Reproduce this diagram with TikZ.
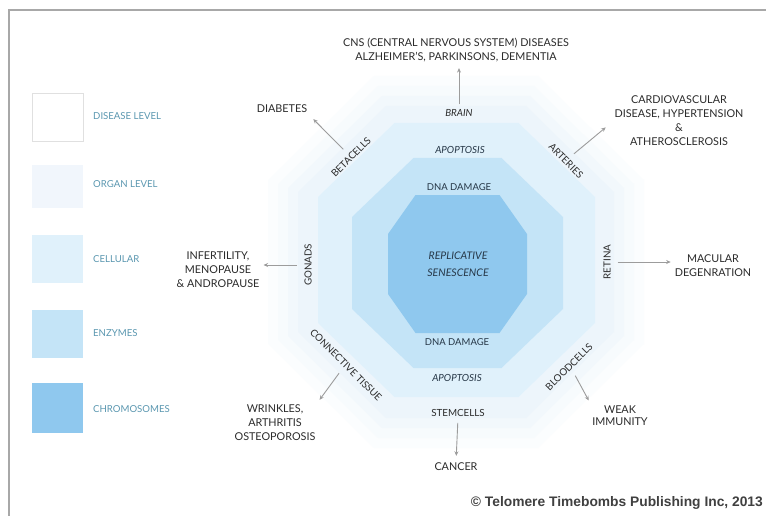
\documentclass[tikz,border=0pt]{standalone}
\usepackage{fontspec}
\setmainfont{Lato}
\newfontfamily\notefont{Liberation Sans}
\usetikzlibrary{arrows.meta}

\definecolor{framegray}{HTML}{A8A8A8}
\definecolor{txtdark}{HTML}{2B2B2B}
\definecolor{txtnavy}{HTML}{263747}
\definecolor{legendtxt}{HTML}{5A97B0}
\definecolor{arrowgray}{HTML}{9C9C9C}
\definecolor{organA}{HTML}{FBFDFE}
\definecolor{organB}{HTML}{F7FBFD}
\definecolor{organC}{HTML}{F2F8FC}
\definecolor{organD}{HTML}{EDF5FB}
\definecolor{organkey}{HTML}{F1F6FC}
\definecolor{cellfill}{HTML}{E0F1FB}
\definecolor{enzfill}{HTML}{C4E4F7}
\definecolor{chromfill}{HTML}{8FC8EE}

% filled octagon: style, centre x, centre y, half width, half height,
% half length of top edge, half length of side edge
\newcommand\octfill[7]{%
  \fill[#1] ({#2-#6},{#3-#5}) -- ({#2+#6},{#3-#5}) -- ({#2+#4},{#3-#7})
    -- ({#2+#4},{#3+#7}) -- ({#2+#6},{#3+#5}) -- ({#2-#6},{#3+#5})
    -- ({#2-#4},{#3+#7}) -- ({#2-#4},{#3-#7}) -- cycle;}

\begin{document}
\begin{tikzpicture}[x=1pt,y=-1pt,
  lbl/.style={font=\fontsize{10.8}{14}\selectfont, text=txtdark, inner sep=1pt, align=center},
  orglbl/.style={font=\fontsize{9.8}{11}\selectfont, text=txtdark, inner sep=1pt, align=center},
  inlbl/.style={font=\fontsize{9.5}{11}\selectfont, text=txtnavy, inner sep=1pt, align=center},
  legtxt/.style={font=\fontsize{9.6}{11}\selectfont, text=legendtxt, anchor=west, inner sep=0pt},
  arr/.style={draw=arrowgray, line width=0.9pt, -{Stealth[length=4.5pt,width=4pt]}}]

% canvas and frame
\useasboundingbox (0,0) rectangle (766,516);
\fill[white] (0,0) rectangle (766,516);
\draw[framegray, line width=1.3pt] (9,516) -- (9,10) -- (766,10);

% legend
\fill[white] (32,93) rectangle (83,141);
\draw[black!12, line width=0.8pt] (32,93) rectangle (83,141);
\fill[organkey] (32,165) rectangle (83,208);
\fill[cellfill] (32,235) rectangle (83,283);
\fill[enzfill] (32,310) rectangle (83,358);
\fill[chromfill] (32,383) rectangle (83,433);
\node[legtxt] (lgdis) at (93,116) {DISEASE LEVEL};
\node[legtxt] (lgorg) at (93,184) {ORGAN LEVEL};
\node[legtxt] (lgcel) at (93,259) {CELLULAR};
\node[legtxt] (lgenz) at (93,333) {ENZYMES};
\node[legtxt] (lgchr) at (93,409) {CHROMOSOMES};

% nested octagons: organ level (soft edge), cellular, enzymes, chromosomes
\octfill{organA}{456}{262}{188}{186}{82}{82}
\octfill{organB}{456}{262}{178}{176}{78}{78}
\octfill{organC}{456}{262}{168}{166}{74}{74}
\octfill{organD}{456}{262}{158}{156}{70}{70}
\octfill{cellfill}{456.5}{260}{138.5}{137}{62}{63}
\octfill{enzfill}{457.5}{263}{105.5}{105}{44}{46}
\octfill{chromfill}{457.5}{264}{69.5}{69}{42}{30}

% central labels
\node[inlbl, font=\fontsize{10.5}{17}\selectfont\itshape] (core) at (458,264) {REPLICATIVE\\SENESCENCE};
\node[inlbl] (dnatop) at (459,187) {DNA DAMAGE};
\node[inlbl] (dnabot) at (457,342) {DNA DAMAGE};
\node[inlbl, font=\fontsize{9.8}{11}\selectfont\itshape] (apotop) at (460,150) {APOPTOSIS};
\node[inlbl, font=\fontsize{9.8}{11}\selectfont\itshape] (apobot) at (457,378) {APOPTOSIS};

% organ labels
\node[orglbl, font=\fontsize{9.8}{11}\selectfont\itshape] (brain) at (459,113) {BRAIN};
\node[orglbl, rotate=45] (beta) at (351,157) {BETACELLS};
\node[orglbl, rotate=-45] (arteries) at (566,161) {ARTERIES};
\node[orglbl, rotate=90] (retina) at (607,262) {RETINA};
\node[orglbl, rotate=90] (gonads) at (308,265) {GONADS};
\node[orglbl, rotate=-45] (conn) at (346,365) {CONNECTIVE TISSUE};
\node[orglbl, rotate=45] (blood) at (569,367) {BLOODCELLS};
\node[orglbl] (stem) at (458,413) {STEMCELLS};

% disease labels
\node[lbl] (cns) at (456,50) {CNS (CENTRAL NERVOUS SYSTEM) DISEASES\\ALZHEIMER'S, PARKINSONS, DEMENTIA};
\node[lbl] (diab) at (282,109) {DIABETES};
\node[lbl] (cardio) at (679,121) {CARDIOVASCULAR\\DISEASE, HYPERTENSION\\\&\\ATHEROSCLEROSIS};
\node[lbl] (macular) at (713,266) {MACULAR\\DEGENRATION};
\node[lbl] (infert) at (218,270) {INFERTILITY,\\MENOPAUSE\\\& ANDROPAUSE};
\node[lbl] (wrinkles) at (275,423) {WRINKLES,\\ARTHRITIS\\OSTEOPOROSIS};
\node[lbl, font=\fontsize{10.8}{12}\selectfont] (weak) at (620,416) {WEAK\\IMMUNITY};
\node[lbl] (cancer) at (456,467) {CANCER};

% connectors from organs to diseases
\draw[arr, shorten <=4pt, shorten >=5pt] (brain.north) -- (cns.south -| brain.north);
\draw[arr, shorten <=6pt, shorten >=7pt] (beta.north) -- (diab.south east);
\draw[arr, shorten <=6pt, shorten >=10pt] (arteries.north) -- (cardio.west);
\draw[arr, shorten <=6pt, shorten >=3pt] (retina.south) -- (retina.south -| macular.west);
\draw[arr, shorten <=6pt, shorten >=3pt] (gonads.north) -- (gonads.north -| infert.east);
\draw[arr, shorten <=6pt, shorten >=5pt] (conn.south) -- (wrinkles.north east);
\draw[arr, shorten <=6pt, shorten >=5pt] (blood.south) -- (weak.north west);
\draw[arr, shorten <=5pt, shorten >=6pt] (stem.south) -- (cancer.north);

% copyright line
\node[font=\notefont\bfseries\fontsize{13.8}{16}\selectfont, text=black!75, anchor=east, inner sep=0pt] (copy) at (763,503) {\textcopyright\ Telomere Timebombs Publishing Inc, 2013};
\end{tikzpicture}
\end{document}
